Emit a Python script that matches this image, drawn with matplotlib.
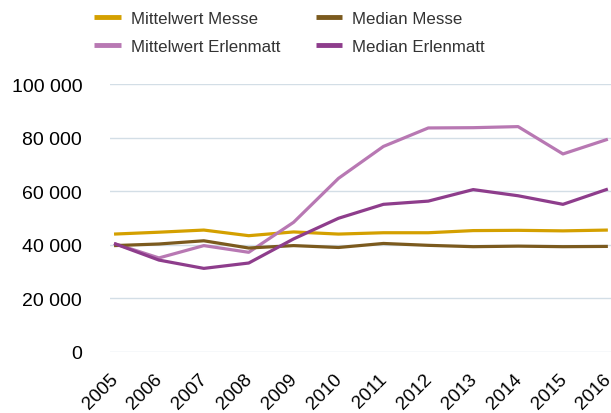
import matplotlib.pyplot as plt
import matplotlib.transforms as mtransforms
from matplotlib.ticker import FuncFormatter

years = list(range(2005, 2017))

mittel_messe = [44000, 44700, 45500, 43400, 44800, 44000, 44500, 44500, 45300, 45400, 45200, 45500]
median_messe = [39700, 40300, 41500, 38800, 39700, 39000, 40500, 39800, 39300, 39500, 39300, 39400]
mittel_erlen = [40500, 35100, 39700, 37200, 48400, 64800, 76700, 83600, 83700, 84100, 73900, 79400]
median_erlen = [40500, 34300, 31200, 33200, 42200, 49900, 55100, 56300, 60600, 58300, 55100, 60800]

# legend is filled column by column, so this order gives the reference's rows
series = [
    ('Mittelwert Messe', mittel_messe, '#D4A000'),
    ('Mittelwert Erlenmatt', mittel_erlen, '#B878B3'),
    ('Median Messe', median_messe, '#7B5A1E'),
    ('Median Erlenmatt', median_erlen, '#8E3D8C'),
]

plt.rcParams['font.family'] = ['Liberation Sans', 'DejaVu Sans']

fig = plt.figure(figsize=(6.11, 4.14), dpi=100)
ax = fig.add_axes([110 / 611, 61 / 414, 501 / 611, 268 / 414])

for label, vals, color in series:
    ax.plot(years, vals, color=color, linewidth=2.3, label=label, solid_capstyle='butt')

ax.set_ylim(0, 100000)
ax.set_xlim(2004.91, 2016.07)
ax.set_yticks(range(0, 100001, 20000))
ax.yaxis.set_major_formatter(FuncFormatter(lambda v, p: f'{int(v):,}'.replace(',', ' ')))
ax.set_xticks(years)
ax.set_xticklabels([str(y) for y in years], rotation=45, ha='right', va='top',
                   rotation_mode='anchor', fontsize=13.5)
ax.tick_params(axis='y', labelsize=14, length=0, pad=20)
ax.tick_params(axis='x', length=0, pad=13)
shift = mtransforms.ScaledTranslation(-5 / 100, 0, fig.dpi_scale_trans)
for lbl in ax.get_xticklabels():
    lbl.set_transform(lbl.get_transform() + shift)
ax.grid(axis='y', color='#D3DEE6', linewidth=1)
ax.set_axisbelow(True)
for s in ax.spines.values():
    s.set_visible(False)

leg = fig.legend(loc='upper left', bbox_to_anchor=(79 / 611, 1.0 + 3 / 414), ncol=2, frameon=False,
                 fontsize=12.2, handlelength=1.55, handletextpad=0.6, columnspacing=2.1,
                 labelspacing=0.75)
for line in leg.get_lines():
    line.set_linewidth(3.5)
for t in leg.get_texts():
    t.set_color('#333333')

plt.savefig('out.png', dpi=100)
